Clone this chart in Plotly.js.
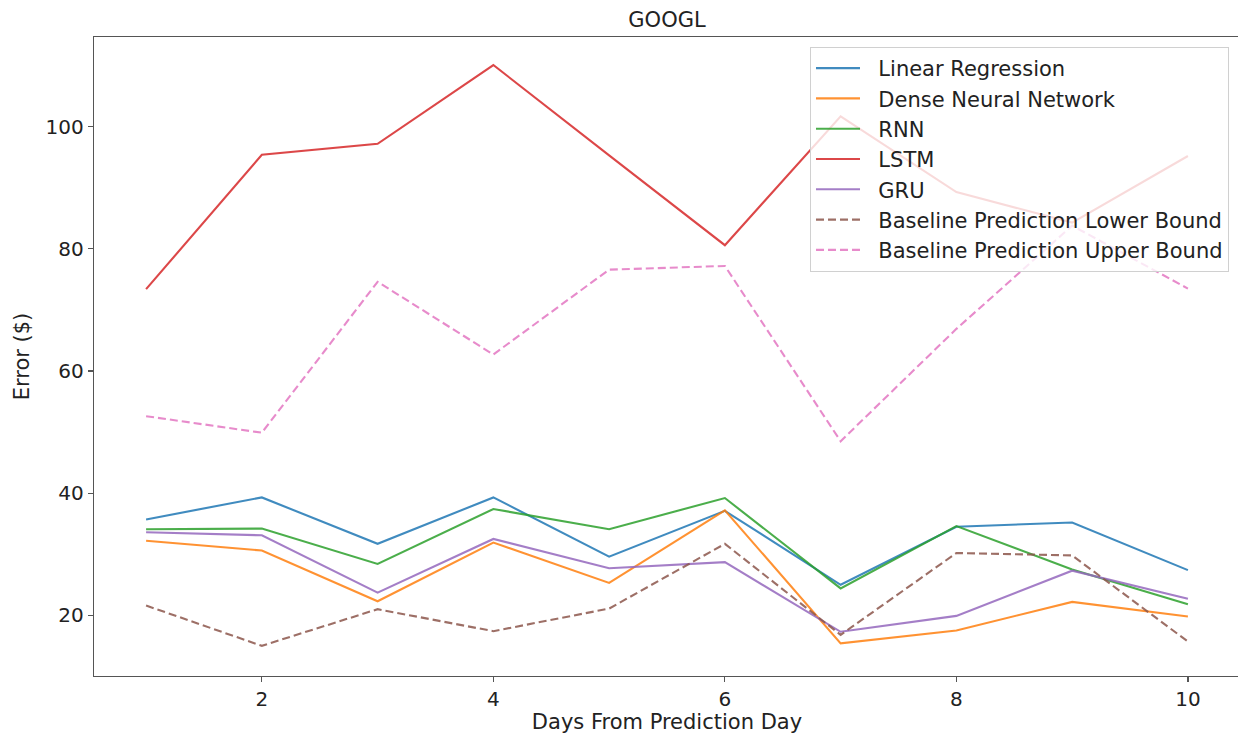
<!DOCTYPE html>
<html>
<head>
<meta charset="utf-8">
<script src="https://cdn.plot.ly/plotly-3.0.1.min.js"></script>
<style>
html, body { margin:0; padding:0; overflow:hidden; background:#fff; width:1238px; height:734px; }
#chart { width:1241px; height:734px; }
</style>
</head>
<body>
<div id="chart"></div>
<script>
const days = [1, 2, 3, 4, 5, 6, 7, 8, 9, 10];
const linearRegression = [35.7, 39.3, 31.7, 39.3, 29.6, 37.1, 25.0, 34.5, 35.2, 27.4];
const denseNN = [32.2, 30.6, 22.3, 31.9, 25.3, 37.2, 15.4, 17.5, 22.2, 19.8];
const rnn = [34.1, 34.2, 28.4, 37.4, 34.1, 39.2, 24.4, 34.6, 27.5, 21.8];
const lstm = [73.4, 95.4, 97.2, 110.1, 95.3, 80.6, 101.7, 89.3, 84.3, 95.2];
const gru = [33.6, 33.1, 23.7, 32.5, 27.7, 28.7, 17.3, 19.9, 27.3, 22.7];
const lowerBound = [21.6, 15.0, 21.0, 17.4, 21.1, 31.7, 16.8, 30.2, 29.8, 15.7];
const upperBound = [52.6, 49.9, 74.6, 62.7, 76.6, 77.2, 48.5, 66.9, 83.8, 73.5];

const seriesNames = ["Linear Regression", "Dense Neural Network", "RNN", "LSTM", "GRU",
  "Baseline Prediction Lower Bound", "Baseline Prediction Upper Bound"];
const seriesValues = [linearRegression, denseNN, rnn, lstm, gru, lowerBound, upperBound];
const colors = ["#1f77b4", "#ff7f0e", "#2ca02c", "#d62728", "#9467bd", "#8c564b", "#e377c2"];
const dashes = ["solid", "solid", "solid", "solid", "solid", "8px,4px", "8px,4px"];

const traces = seriesNames.map((name, i) => ({
  x: days, y: seriesValues[i], name: "\u00a0\u00a0" + name, type: "scatter", mode: "lines",
  line: { color: colors[i], width: 2.1, dash: dashes[i] }, opacity: 0.85
}));

const txt = "#222";
const font = { family: "DejaVu Sans, sans-serif", size: 21, color: txt };
const axisCommon = {
  showline: true, mirror: true, linecolor: "#555", linewidth: 1.3,
  ticks: "outside", ticklen: 5, tickwidth: 1.2, tickcolor: "#555",
  showgrid: false, zeroline: false, tickfont: { size: 20, color: txt }
};

const layout = {
  width: 1241, height: 734,
  margin: { l: 94, r: 1, t: 37, b: 58 },
  paper_bgcolor: "#fff", plot_bgcolor: "#fff",
  font: font,
  showlegend: true,
  title: { text: "GOOGL", x: 0.5, xref: "paper", y: 1 - 20/734, yref: "container", yanchor: "middle", xanchor: "center", font: { size: 21, color: txt } },
  xaxis: Object.assign({}, axisCommon, {
    range: [0.55, 10.45], tickvals: [2, 4, 6, 8, 10],
    title: { text: "Days From Prediction Day", standoff: 6, font: { size: 21, color: txt } }
  }),
  yaxis: Object.assign({}, axisCommon, {
    range: [10.06, 114.69], tickvals: [20, 40, 60, 80, 100],
    title: { text: "Error ($)", standoff: 10, font: { size: 21, color: txt } }
  }),
  legend: {
    x: 0.9904, xanchor: "right", y: 0.9844, yanchor: "top",
    bgcolor: "rgba(255,255,255,0.8)", bordercolor: "#d0d0d0", borderwidth: 1,
    font: { size: 21, color: txt }, itemwidth: 44, tracegroupgap: 0
  }
};

Plotly.newPlot("chart", traces, layout, { displayModeBar: false, staticPlot: true });
</script>
</body>
</html>
